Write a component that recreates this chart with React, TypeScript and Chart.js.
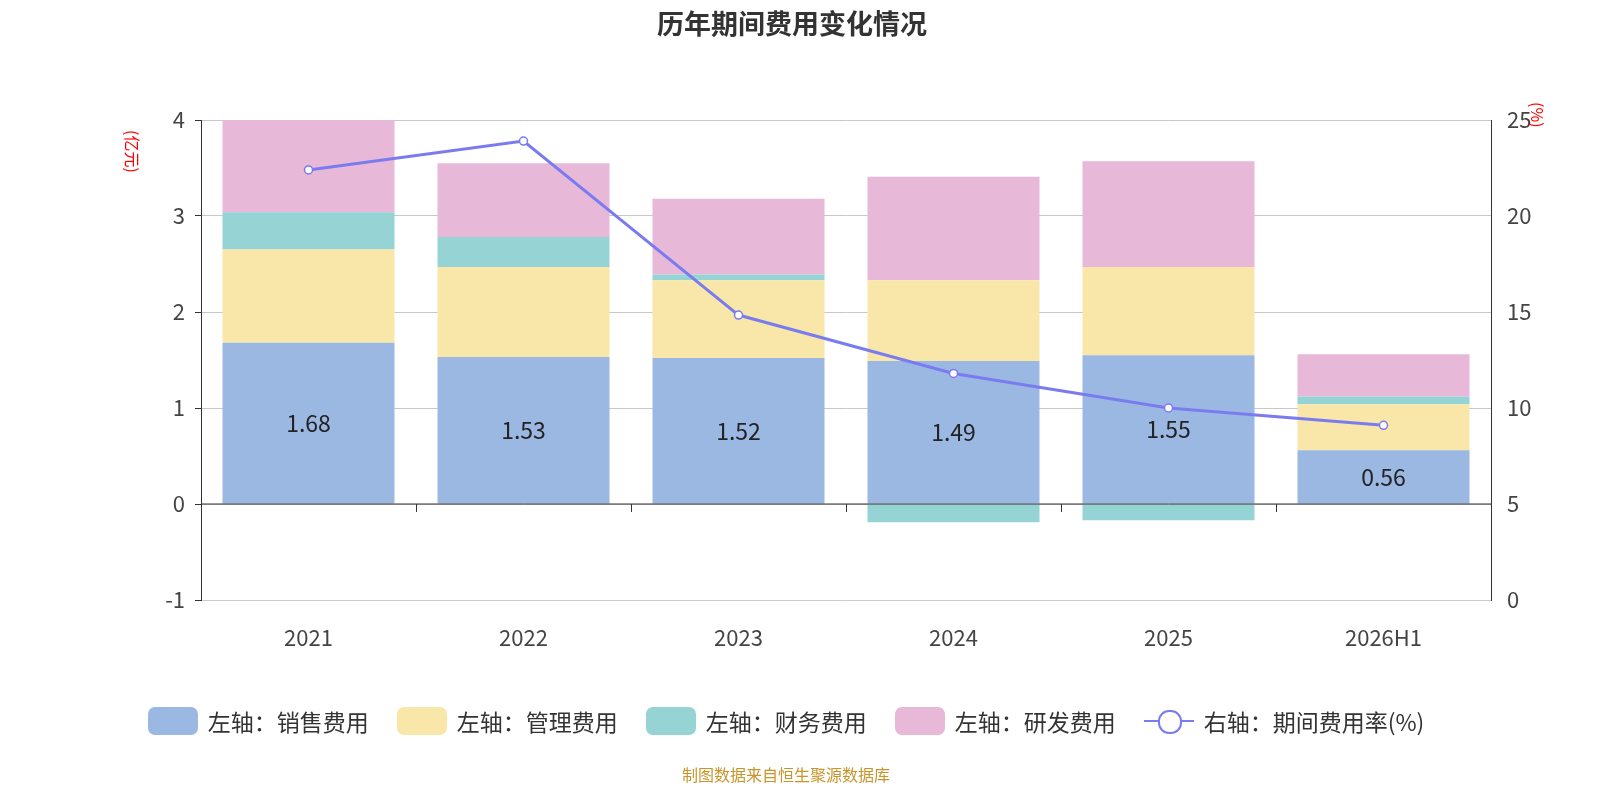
import React, { useEffect, useRef } from "react";
import { Chart, registerables } from "chart.js";
Chart.register(...registerables);

const categories = ["2021", "2022", "2023", "2024", "2025", "2026H1"];
const sales = [1.68, 1.53, 1.52, 1.49, 1.55, 0.56];
const admin = [0.97, 0.94, 0.81, 0.84, 0.92, 0.48];
const finance = [0.39, 0.31, 0.06, -0.19, -0.17, 0.08];
const rnd = [0.96, 0.77, 0.79, 1.08, 1.1, 0.44];
const rate = [22.4, 23.9, 14.84, 11.8, 10.0, 9.1];

const C = { sales: "#9bb8e2", admin: "#f8e7a8", fin: "#96d3d4", rnd: "#e7b8d8", line: "#7b7bf0" };
const FONT = "'Noto Sans CJK SC', 'Noto Sans', sans-serif";

const extras = {
  id: "extras",
  afterDatasetsDraw(chart: any) {
    const ctx = chart.ctx;
    const meta = chart.getDatasetMeta(0);
    ctx.save();
    ctx.font = `23px ${FONT}`;
    ctx.fillStyle = "#222";
    ctx.textAlign = "center";
    ctx.textBaseline = "middle";
    meta.data.forEach((b: any, i: number) => {
      ctx.fillText(sales[i].toFixed(2), b.x, (b.y + b.base) / 2);
    });
    const y0 = chart.scales.y.getPixelForValue(0);
    const x = chart.scales.x;
    ctx.strokeStyle = "#333";
    ctx.lineWidth = 1;
    ctx.beginPath();
    ctx.moveTo(chart.chartArea.left, y0);
    ctx.lineTo(chart.chartArea.right, y0);
    for (let i = 0; i <= categories.length; i++) {
      const px = Math.round(x.left + (i * (x.right - x.left)) / categories.length) + 0.5;
      ctx.moveTo(px, y0);
      ctx.lineTo(px, y0 + 8);
    }
    ctx.stroke();
    ctx.restore();
  },
};

export default function App() {
  const ref = useRef<HTMLCanvasElement>(null);
  useEffect(() => {
    const bar = (label: string, data: number[], color: string) => ({
      type: "bar" as const, label, data, backgroundColor: color, stack: "s", yAxisID: "y",
      barPercentage: 0.8, categoryPercentage: 1, order: 2,
    });
    const chart = new Chart(ref.current!, {
      type: "bar",
      data: {
        labels: categories,
        datasets: [
          bar("左轴：销售费用", sales, C.sales),
          bar("左轴：管理费用", admin, C.admin),
          bar("左轴：财务费用", finance, C.fin),
          bar("左轴：研发费用", rnd, C.rnd),
          {
            type: "line", label: "右轴：期间费用率(%)", data: rate, yAxisID: "y1", order: 1,
            borderColor: C.line, borderWidth: 3, pointRadius: 4, pointBackgroundColor: "#fff",
            pointBorderColor: C.line, pointBorderWidth: 1.5,
          } as any,
        ],
      },
      options: {
        animation: false, responsive: false,
        layout: { padding: { top: 112, left: 0, right: 0, bottom: 0 } },
        plugins: { legend: { display: false }, tooltip: { enabled: false } },
        scales: {
          x: {
            stacked: true,
            grid: { display: false },
            border: { color: "#ccc" },
            ticks: { font: { size: 22, family: FONT }, color: "#444", padding: 16 },
            afterFit: (s: any) => { s.height = 192; },
          },
          y: {
            stacked: true, min: -1, max: 4,
            ticks: { stepSize: 1, font: { size: 22, family: FONT }, color: "#444", padding: 10 },
            grid: { color: "#c8c8c8", drawTicks: true, tickLength: 6, tickColor: "#333" },
            border: { color: "#333" },
            afterFit: (s: any) => { s.width = 193; },
          },
          y1: {
            position: "right", min: 0, max: 25,
            ticks: { stepSize: 5, font: { size: 22, family: FONT }, color: "#444", padding: 10 },
            grid: { display: false, drawOnChartArea: false, tickLength: 6, tickColor: "#333" },
            border: { color: "#333" },
            afterFit: (s: any) => { s.width = 101; },
          },
        },
      },
      plugins: [extras],
    });
    return () => chart.destroy();
  }, []);

  const legend = [
    { t: "左轴：销售费用", c: C.sales },
    { t: "左轴：管理费用", c: C.admin },
    { t: "左轴：财务费用", c: C.fin },
    { t: "左轴：研发费用", c: C.rnd },
  ];
  return (
    <div style={{ position: "relative", width: 1584, height: 784, fontFamily: FONT }}>
      <canvas ref={ref} width={1584} height={784} style={{ position: "absolute", left: 0, top: 0 }} />
      <div style={{ position: "absolute", top: -5, left: 0, width: 1568, textAlign: "center", fontSize: 27, fontWeight: "bold", color: "#333" }}>
        历年期间费用变化情况
      </div>
      <div style={{ position: "absolute", left: 115, top: 122, transform: "rotate(90deg)", transformOrigin: "left top", color: "red", fontSize: 16, whiteSpace: "nowrap", marginLeft: 22 }}>
        (亿元)
      </div>
      <div style={{ position: "absolute", left: 1520, top: 94, transform: "rotate(90deg)", transformOrigin: "left top", color: "red", fontSize: 16, whiteSpace: "nowrap", marginLeft: 22 }}>
        (%)
      </div>
      <div style={{ position: "absolute", top: 696, left: 0, width: 1556, display: "flex", justifyContent: "center", gap: 28, fontSize: 23, color: "#333", alignItems: "center" }}>
        {legend.map((l) => (
          <div key={l.t} style={{ display: "flex", alignItems: "center", gap: 10 }}>
            <div style={{ width: 50, height: 28, borderRadius: 7, background: l.c }} />
            <span>{l.t}</span>
          </div>
        ))}
        <div style={{ display: "flex", alignItems: "center", gap: 10 }}>
          <div style={{ position: "relative", width: 50, height: 28 }}>
            <div style={{ position: "absolute", top: 13, left: 0, width: 50, height: 2, background: C.line }} />
            <div style={{ position: "absolute", top: 3, left: 14, width: 20, height: 20, borderRadius: 11, border: `2px solid ${C.line}`, background: "#fff" }} />
          </div>
          <span>右轴：期间费用率(%)</span>
        </div>
      </div>
      <div style={{ position: "absolute", top: 754, left: 0, width: 1556, textAlign: "center", fontSize: 16, color: "#c8952a" }}>
        制图数据来自恒生聚源数据库
      </div>
    </div>
  );
}
